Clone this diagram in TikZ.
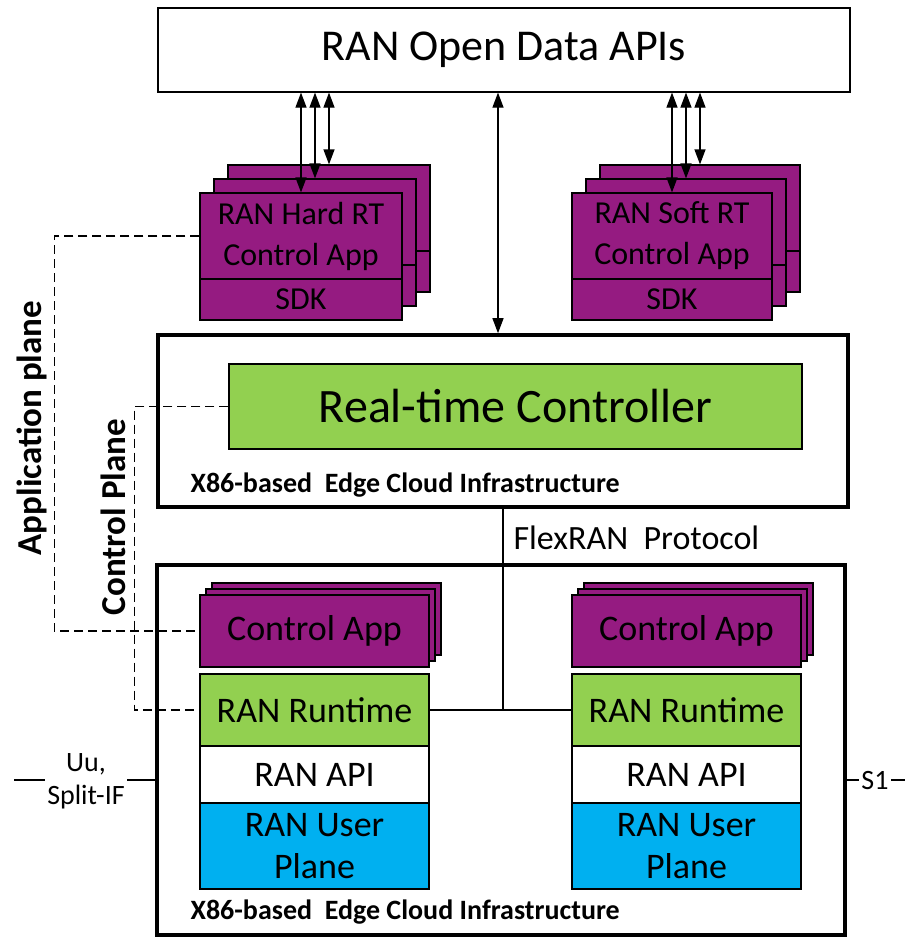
\documentclass[tikz,border=0pt]{standalone}
\usepackage{fontspec}
\setmainfont{Carlito}
\usetikzlibrary{arrows.meta,calc}

\definecolor{apppurple}{RGB}{149,27,129}
\definecolor{rtgreen}{RGB}{146,208,80}
\definecolor{upblue}{RGB}{0,176,240}

\begin{document}
\begin{tikzpicture}[x=1pt, y=-1pt, line width=1.2pt,
  box/.style={draw, rectangle, inner sep=0pt, align=center},
  appbox/.style={box, fill=apppurple, minimum width=202pt},
  colbox/.style={box, minimum width=229pt, minimum height=72pt, font=\fontsize{36}{42}\selectfont},
  cloud/.style={draw, line width=3.6pt, rectangle, inner sep=0pt},
  cloudlabel/.style={anchor=west, inner sep=0pt, font=\bfseries\fontsize{28}{30}\selectfont},
  plane/.style={draw, dash pattern=on 9pt off 5pt},
  biarrow/.style={{Triangle[length=15pt,width=11pt]}-{Triangle[length=15pt,width=11pt]}}]
  \useasboundingbox (0,0) rectangle (917,937);

  % top API layer
  \node[box, fill=white, minimum width=692pt, minimum height=84pt,
        font=\fontsize{44}{48}\selectfont] (api) at (504,50) {RAN Open Data APIs};

  % hard / soft RT control apps, each a stack of three
  \foreach \d in {28,14} {
    \node[appbox, minimum height=86pt] (hardbk\d) at (301+\d,236-\d) {};
    \node[appbox, minimum height=41pt] (hardsdkbk\d) at (301+\d,299.5-\d) {};
    \node[appbox, minimum width=200pt, minimum height=86pt] (softbk\d) at (672+\d,236-\d) {};
    \node[appbox, minimum width=200pt, minimum height=41pt] (softsdkbk\d) at (672+\d,299.5-\d) {};
  }
  \node[appbox, minimum height=86pt, font=\fontsize{32}{41}\selectfont] (hardapp) at (301,236) {RAN Hard RT\\Control App};
  \node[appbox, minimum height=41pt, font=\fontsize{32}{36}\selectfont] (hardsdk) at (301,299.5) {SDK};
  \node[appbox, minimum width=200pt, minimum height=86pt, font=\fontsize{32}{41}\selectfont] (softapp) at (672,236) {RAN Soft RT\\Control App};
  \node[appbox, minimum width=200pt, minimum height=41pt, font=\fontsize{32}{36}\selectfont] (softsdk) at (672,299.5) {SDK};

  \draw[biarrow] (hardapp.north |- api.south) -- (hardapp.north);
  \draw[biarrow] (hardbk14.north |- api.south) -- (hardbk14.north);
  \draw[biarrow] (hardbk28.north |- api.south) -- (hardbk28.north);
  \draw[biarrow] (softapp.north |- api.south) -- (softapp.north);
  \draw[biarrow] (softbk14.north |- api.south) -- (softbk14.north);
  \draw[biarrow] (softbk28.north |- api.south) -- (softbk28.north);

  % edge cloud with the controller
  \node[cloud, minimum width=690pt, minimum height=172pt] (cloudup) at (503,421) {};
  \node[box, fill=rtgreen, minimum width=573pt, minimum height=85pt,
        font=\fontsize{48}{52}\selectfont] (rtc) at (515.5,406.5) {Real-time Controller};
  \node[cloudlabel] (uplabel) at (190,485) {X86-based\ \ Edge Cloud Infrastructure};
  \coordinate (mid) at (498,0);
  \draw[biarrow] (mid |- api.south) -- (mid |- cloudup.north);

  % edge cloud with the RAN stacks
  \node[cloud, minimum width=688pt, minimum height=370pt] (cloudlow) at (501,750) {};
  \node[cloudlabel] (lowlabel) at (190,912) {X86-based\ \ Edge Cloud Infrastructure};

  \foreach \d in {12,6} {
    \node[colbox, fill=apppurple] (lctlbk\d) at (314.5+\d,631-\d) {};
    \node[colbox, fill=apppurple] (rctlbk\d) at (686.5+\d,631-\d) {};
  }
  \node[colbox, fill=apppurple] (lctl) at (314.5,631) {Control App};
  \node[colbox, fill=rtgreen] (lrun) at (314.5,710) {RAN Runtime};
  \node[colbox, fill=white, minimum height=57pt] (lapi) at (314.5,774.5) {RAN API};
  \node[colbox, fill=upblue, minimum height=86pt] (lup) at (314.5,846) {RAN User\\Plane};

  \node[colbox, fill=apppurple] (rctl) at (686.5,631) {Control App};
  \node[colbox, fill=rtgreen] (rrun) at (686.5,710) {RAN Runtime};
  \node[colbox, fill=white, minimum height=57pt] (rapi) at (686.5,774.5) {RAN API};
  \node[colbox, fill=upblue, minimum height=86pt] (rup) at (686.5,846) {RAN User\\Plane};

  % FlexRAN protocol
  \node[anchor=west, inner sep=0pt, font=\fontsize{34}{38}\selectfont] (flex) at (513,538) {FlexRAN\ \ Protocol};
  \draw (cloudup.south) -- (cloudup.south |- lrun.east);
  \draw (lrun.east) -- (rrun.west);

  % planes
  \draw[plane] (hardapp.west) -- ++(-145,0) |- (lctl.west);
  \draw[plane] (rtc.west) -- ++(-94,0) |- (lrun.west);
  \node[rotate=90, inner sep=0pt, font=\bfseries\fontsize{35}{38}\selectfont] (applane) at (32,428) {Application plane};
  \node[rotate=90, inner sep=0pt, font=\bfseries\fontsize{35}{38}\selectfont] (ctlplane) at (113,517) {Control Plane};

  % interfaces
  \node[align=center, inner sep=2pt, font=\fontsize{28}{33}\selectfont] (uu) at (86,781) {Uu,\\Split-IF};
  \coordinate (uuend) at (14,780);
  \draw (uuend) -- (uuend -| uu.west);
  \draw (uu.east |- uuend) -- (cloudlow.west |- uuend);
  \node[inner sep=2pt, font=\fontsize{28}{30}\selectfont] (s1) at (875,780) {S1};
  \coordinate (s1end) at (905,780);
  \draw (cloudlow.east |- s1end) -- (s1.west |- s1end);
  \draw (s1.east |- s1end) -- (s1end);
\end{tikzpicture}
\end{document}
